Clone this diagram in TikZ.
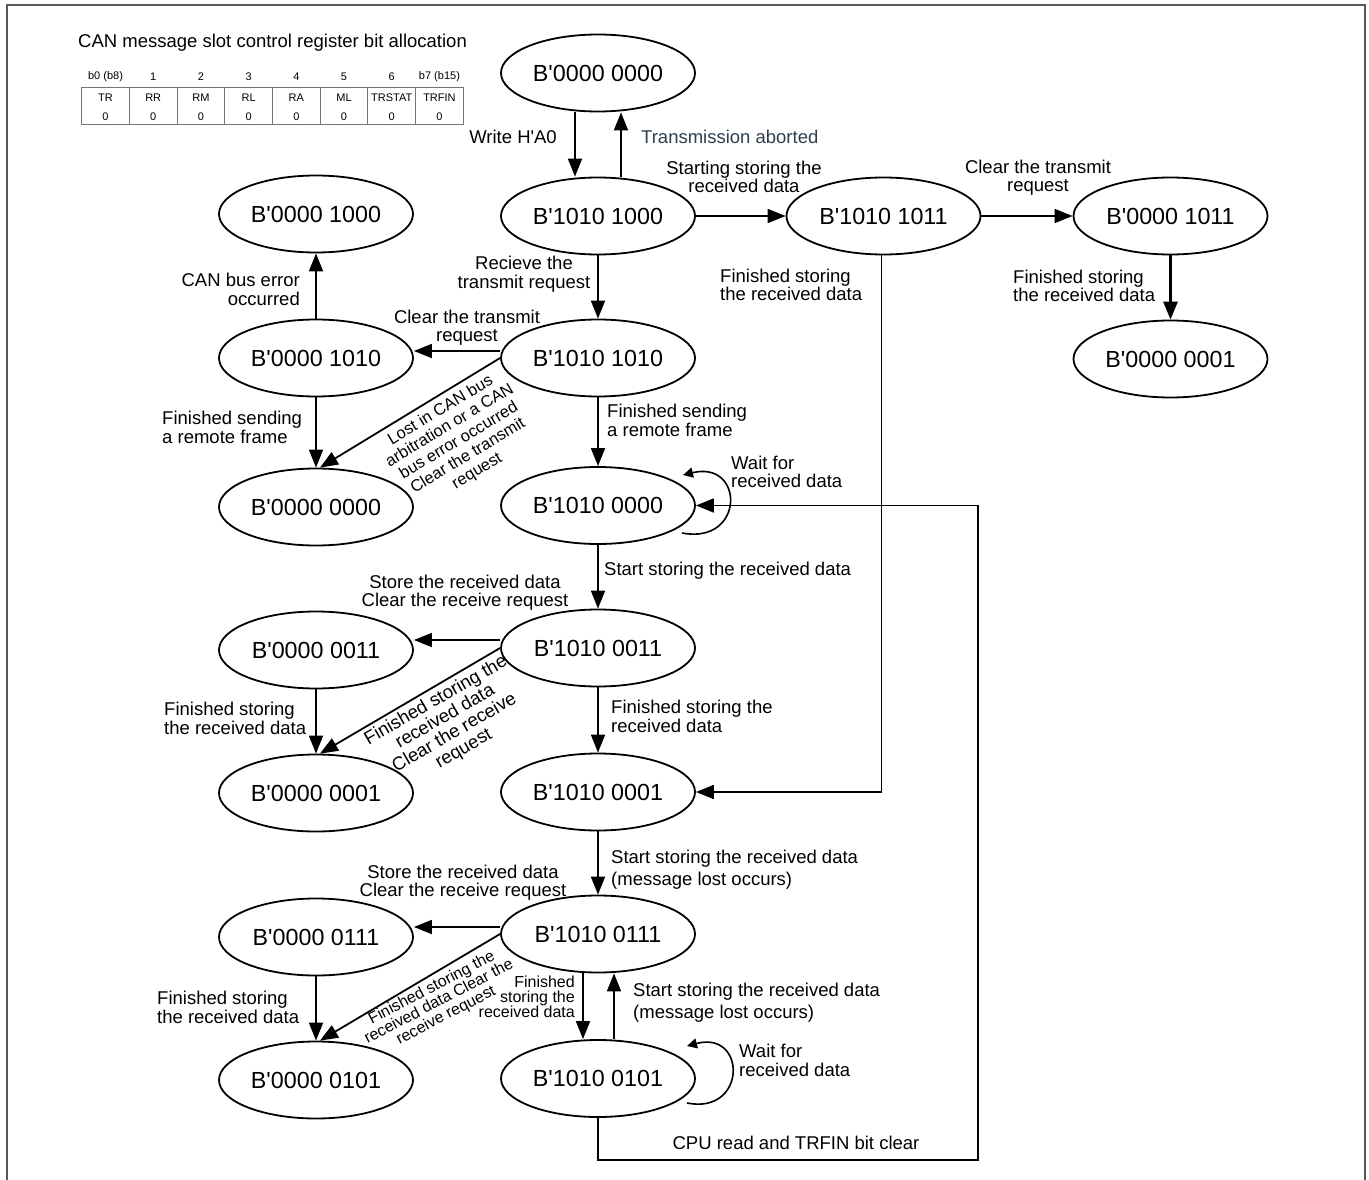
\documentclass[tikz,border=0pt]{standalone}
\usepackage{fontspec}
\setmainfont{Liberation Sans}
\newfontfamily\cansans{Liberation Sans}
\usetikzlibrary{shapes.geometric,arrows.meta}

\definecolor{slate}{RGB}{47,62,79}

\tikzset{
  state/.style={ellipse, draw, line width=1.8pt, minimum width=194pt, minimum height=77pt,
    inner sep=0pt, font=\cansans\fontsize{23.3}{26}\selectfont},
  lbl/.style={inner sep=0pt, font=\cansans\fontsize{18.5}{18.5}\selectfont},
  smlbl/.style={inner sep=0pt, font=\cansans\fontsize{16}{15}\selectfont},
  bitlbl/.style={inner sep=0pt, font=\cansans\fontsize{11}{12}\selectfont},
  tran/.style={line width=1.8pt, -{Triangle[length=18pt,width=14pt]}},
  loopy/.style={line width=1.6pt, -{Triangle[length=10pt,width=10pt]}},
  tbl/.style={line width=0.9pt, black!55},
  frame/.style={line width=2pt, black!65}
}

\begin{document}
\begin{tikzpicture}[x=1pt,y=-1pt]
  \useasboundingbox (0,0) rectangle (1369,1180);

  % 1. 外框
  \draw[frame] (7,1180) -- (7,5) -- (1365,5) -- (1365,1180);

  % 2. 寄存器位分配表
  \def\tx{81.7}
  \def\tw{47.7}
  \node[lbl, anchor=west] (title) at (78,43) {CAN message slot control register bit allocation};
  \draw[tbl] (\tx,87) rectangle (\tx+8*\tw,124);
  \foreach \i/\hd/\nm in {0/{b0 (b8)}/TR,1/1/RR,2/2/RM,3/3/RL,4/4/RA,5/5/ML,6/6/TRSTAT,7/{b7 (b15)}/TRFIN}{
    \node[bitlbl] (hd\i) at (\tx+\i*\tw+\tw/2,77) {\hd};
    \node[bitlbl] (nm\i) at (\tx+\i*\tw+\tw/2,97.7) {\nm};
    \node[bitlbl] (vl\i) at (\tx+\i*\tw+\tw/2,116.7) {0};
    \ifnum\i>0 \draw[tbl] (\tx+\i*\tw,87) -- (\tx+\i*\tw,124); \fi
  }

  % 3. 状态
  % 中列
  \node[state] (s00)  at (598,73)     {B'0000 0000};
  \node[state] (sA8)  at (598,216)    {B'1010 1000};
  \node[state] (sAA)  at (598,358)    {B'1010 1010};
  \node[state] (sA0)  at (598,505.5)  {B'1010 0000};
  \node[state] (sA3)  at (598,648)    {B'1010 0011};
  \node[state] (sA1)  at (598,792)    {B'1010 0001};
  \node[state] (sA7)  at (598,934)    {B'1010 0111};
  \node[state] (sA5)  at (598,1078.5) {B'1010 0101};
  % 左列
  \node[state] (s08)  at (316,214)    {B'0000 1000};
  \node[state] (s0A)  at (316,358)    {B'0000 1010};
  \node[state] (s00l) at (316,507)    {B'0000 0000};
  \node[state] (s03)  at (316,650)    {B'0000 0011};
  \node[state] (s01l) at (316,793)    {B'0000 0001};
  \node[state] (s07)  at (316,937)    {B'0000 0111};
  \node[state] (s05)  at (316,1080)   {B'0000 0101};
  % 右侧
  \node[state] (sAB)  at (883.5,216)  {B'1010 1011};
  \node[state] (s0B)  at (1170.5,216) {B'0000 1011};
  \node[state] (s01r) at (1170.5,359) {B'0000 0001};

  % 4. 顶部：写入与发送中止
  \draw[tran] ([xshift=-23pt]s00.south) -- ([xshift=-23pt]sA8.north);
  \node[lbl, anchor=east] (wr) at (557,137) {Write H'A0};
  \draw[tran] ([xshift=23pt]sA8.north) -- ([xshift=23pt]s00.south);
  \node[lbl, anchor=west, text=slate] (ab) at (641,137) {Transmission aborted};

  % 5. 右上分支
  \draw[tran] (sA8.east) -- (sAB.west);
  \node[lbl, align=center] (st1) at (744,177) {Starting storing the\\received data};
  \draw[tran] (sAB.east) -- (s0B.west);
  \node[lbl, align=center] (ct1) at (1038,177.5) {Clear the transmit\\request};
  \draw[tran, line width=3pt] (s0B.south) -- (s01r.north);
  \node[lbl, align=left, anchor=west] (fs1) at (1013,286) {Finished storing\\the received data};
  \draw[tran] ([xshift=-2pt]sAB.south) |- (sA1.east);
  \node[lbl, align=left, anchor=west] (fs2) at (720,285) {Finished storing\\the received data};

  % 6. 发送请求
  \draw[tran] (sA8.south) -- (sAA.north);
  \node[lbl, align=center] (rv) at (524,274) {Recieve the\\transmit request};
  \coordinate (aaw) at ([yshift=7pt]sAA.west);
  \draw[tran] (aaw) -- (aaw -| s0A.east);
  \node[lbl, align=center] (ct2) at (467,327.5) {Clear the transmit\\request};
  \draw[tran] (s0A.north) -- (s08.south);
  \node[lbl, align=right, anchor=east] (ce) at (300,289.5) {CAN bus error\\occurred};
  \draw[tran] (s0A.south) -- (s00l.north);
  \node[lbl, align=left, anchor=west] (fr1) at (162,427.5) {Finished sending\\a remote frame};
  \draw[tran] (sAA.west) -- ([xshift=4pt]s00l.north);
  \node[inner sep=0pt, font=\cansans\fontsize{16.5}{17.7}\selectfont, align=center, rotate=31] (lost)
    at (459,441) {Lost in CAN bus\\arbitration or a CAN\\bus error occurred\\Clear the transmit\\request};
  \draw[tran] (sAA.south) -- (sA0.north);
  \node[lbl, align=left, anchor=west] (fr2) at (607,420.5) {Finished sending\\a remote frame};

  % 7. 等待接收
  \draw[loopy] ([shift={(84,27.5)}]sA0.center) .. controls +(63,12) and +(62,-15) .. ([shift={(85,-30.5)}]sA0.center);
  \node[lbl, align=left, anchor=west] (wt1) at (731,472) {Wait for\\received data};
  \draw[tran] (sA0.south) -- (sA3.north);
  \node[lbl, anchor=west] (ss1) at (604,571) {Start storing the received data};

  % 8. 接收数据
  \coordinate (a3w) at ([yshift=8pt]sA3.west);
  \draw[tran] (a3w) -- (a3w -| s03.east);
  \node[lbl, align=center] (sr1) at (465,592.5) {Store the received data\\Clear the receive request};
  \draw[tran] (s03.south) -- (s01l.north);
  \node[lbl, align=left, anchor=west] (fs3) at (164,718.5) {Finished storing\\the received data};
  \draw[tran] (sA3.west) -- ([xshift=4pt]s01l.north);
  \node[lbl, align=center, rotate=30] (fsd1) at (450,725) {Finished storing the\\received data\\Clear the receive\\request};
  \draw[tran] (sA3.south) -- (sA1.north);
  \node[lbl, align=left, anchor=west] (fs4) at (611,716.5) {Finished storing the\\received data};

  % 9. 消息丢失
  \draw[tran] (sA1.south) -- (sA7.north);
  \node[lbl, align=left, anchor=west, font=\cansans\fontsize{18.5}{22}\selectfont] (ml1) at (611,869.5)
    {Start storing the received data\\(message lost occurs)};
  \coordinate (a7w) at ([yshift=7pt]sA7.west);
  \draw[tran] (a7w) -- (a7w -| s07.east);
  \node[lbl, align=center] (sr2) at (463,882.5) {Store the received data\\Clear the receive request};
  \draw[tran] (s07.south) -- (s05.north);
  \node[lbl, align=left, anchor=west] (fs5) at (157,1007.5) {Finished storing\\the received data};
  \draw[tran] (sA7.west) -- ([xshift=4pt]s05.north);
  \node[smlbl, font=\cansans\fontsize{16}{15.5}\selectfont, align=center, rotate=27.5] (fsd2)
    at (439,1002) {Finished storing the\\received data Clear the\\receive request};
  \draw[tran] ([xshift=-15pt]sA7.south) -- ([xshift=-15pt]sA5.north);
  \node[smlbl, align=right, anchor=east] (fs6) at (575,997) {Finished\\storing the\\received data};
  \draw[tran] ([xshift=16pt]sA5.north) -- ([xshift=16pt]sA7.south);
  \node[lbl, align=left, anchor=west, font=\cansans\fontsize{18.5}{22}\selectfont] (ml2) at (633,1003)
    {Start storing the received data\\(message lost occurs)};
  \draw[loopy] ([shift={(89,24.5)}]sA5.center) .. controls +(60,12) and +(60,-16) .. ([shift={(89,-32.5)}]sA5.center);
  \node[lbl, align=left, anchor=west] (wt2) at (739,1060.5) {Wait for\\received data};

  % 10. CPU 读取后返回
  \coordinate (rt) at (978,1160);
  \draw[tran] (sA5.south) |- (rt) |- (sA0.east);
  \node[lbl] (cpu) at (796,1143) {CPU read and TRFIN bit clear};

\end{tikzpicture}
\end{document}
